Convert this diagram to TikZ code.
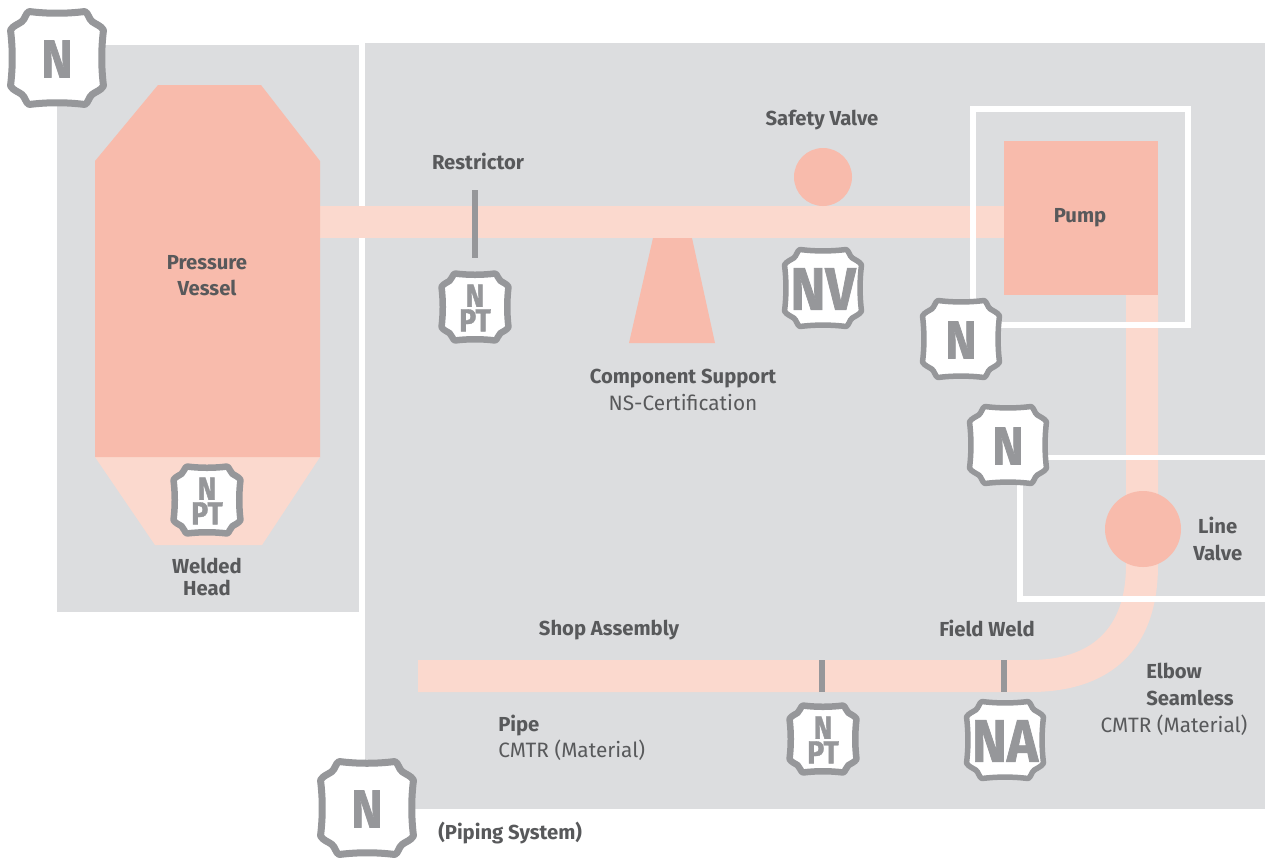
\documentclass[tikz,border=0pt]{standalone}
\usepackage{fontspec}
\setmainfont{Fira Sans}
\newfontfamily\stampfont[FakeStretch=0.88,BoldFeatures={FakeBold=1.2}]{Fira Sans}
\definecolor{panel}{HTML}{DCDDDF}
\definecolor{salmon}{HTML}{F8BBAC}
\definecolor{pale}{HTML}{FBD9CE}
\definecolor{steel}{HTML}{96979A}
\definecolor{ink}{HTML}{58595B}
\tikzset{
  x=0.75pt,y=-0.75pt,
  lab/.style={text=ink,font=\fontsize{15.2}{19.6}\selectfont\bfseries,align=center,inner sep=0pt},
  sub/.style={text=ink,font=\fontsize{15.6}{19.6}\selectfont,align=center,inner sep=0pt},
  tick/.style={draw=steel,line width=4.5pt},
  frame/.style={draw=white,line width=3.8pt},
}
\newcommand{\stampshape}[4]{%
  \begin{scope}[shift={(#1,#2)},x=#3*0.75pt,y=-#3*0.75pt]
    \draw[steel,fill=white,line width=#4*0.75pt,line join=round]
      (-.6,-1) .. controls (-.2,-.95) and (.2,-.95) .. (.6,-1)
      .. controls (.68,-.96) and (.68,-.84) .. (.76,-.78)
      .. controls (.84,-.72) and (.94,-.7) .. (1,-.6)
      .. controls (.95,-.2) and (.95,.2) .. (1,.6)
      .. controls (.94,.7) and (.84,.72) .. (.76,.78)
      .. controls (.68,.84) and (.68,.96) .. (.6,1)
      .. controls (.2,.95) and (-.2,.95) .. (-.6,1)
      .. controls (-.68,.96) and (-.68,.84) .. (-.76,.78)
      .. controls (-.84,.72) and (-.94,.7) .. (-1,.6)
      .. controls (-.95,.2) and (-.95,-.2) .. (-1,-.6)
      .. controls (-.94,-.7) and (-.84,-.72) .. (-.76,-.78)
      .. controls (-.68,-.84) and (-.68,-.96) .. (-.6,-1) -- cycle;
  \end{scope}%
}
% \stamp{name}{x}{y}{half size px}{stroke px}{font pt}{text}
\newcommand{\stamp}[7]{%
  \stampshape{#2}{#3}{#4}{#5}%
  \node[text=steel,inner sep=0pt,align=center,font=\stampfont\fontsize{#6}{#6}\selectfont\bfseries] (#1) at (#2,#3+1) {#7};%
}
\begin{document}
\begin{tikzpicture}
\useasboundingbox (0,0) rectangle (1266,861);
\fill[white] (0,0) rectangle (1266,861);
% panels
\fill[panel] (57,45) rectangle (359,612);
\fill[panel] (365,43) rectangle (1265,809);
% pipes
\fill[pale] (320,206) rectangle (1004,238);
\fill[pale] (1126,295) -- (1158,295) -- (1158,565)
  .. controls (1158,650) and (1110,692) .. (1030,692)
  -- (418,692) -- (418,660) -- (1030,660)
  .. controls (1090,660) and (1126,630) .. (1126,565) -- cycle;
% vessel
\fill[pale] (95,457) -- (320,457) -- (262,545) -- (155,545) -- cycle;
\fill[salmon] (158,85) -- (261,85) -- (320,161) -- (320,457) -- (95,457) -- (95,161) -- cycle;
% support, valves, pump
\fill[salmon] (653,238) -- (692,238) -- (715,343) -- (629,343) -- cycle;
\fill[salmon] (823,177) circle[radius=29];
% white frames
\draw[frame] (973,109) rectangle (1188,325);
\draw[frame] (1266,457.5) -- (1020,457.5) -- (1020,599) -- (1266,599);
\fill[salmon] (1004,141) rectangle (1158,295);
\fill[salmon] (1143,529) circle[radius=38];
% ticks
\draw[tick] (475,190) -- (475,258);
\draw[tick] (822,660) -- (822,692);
\draw[tick] (1004,660) -- (1004,692);
% stamps
\stamp{s1}{57}{58}{46.5}{7}{40}{N}
\stamp{s2}{475}{307}{33.5}{6.5}{24}{N\\[-5.5pt]PT}
\stamp{s3}{207}{500}{33.5}{6.5}{24}{N\\[-5.5pt]PT}
\stamp{s4}{823}{288}{38.5}{5.5}{45}{NV}
\stamp{s5}{961}{339}{38.5}{5.5}{40}{N}
\stamp{s6}{1008}{445}{38.5}{5.5}{40}{N}
\stamp{s7}{823}{739}{33.5}{6.5}{24}{N\\[-5.5pt]PT}
\stamp{s8}{1005}{740}{38.5}{5.5}{45}{NA}
\stamp{s9}{367}{808}{46.5}{7}{40}{N}
% labels
\node[lab] (t1) at (207,276) {Pressure\\Vessel};
\node[lab] (t2) at (207,577) {Welded\\[-3pt]Head};
\node[lab] (t3) at (478,161) {Restrictor};
\node[lab] (t4) at (822,120) {Safety Valve};
\node[lab] (t5) at (1080,218) {Pump};
\node[lab] (t6) at (683,379) {Component Support};
\node[sub] (t7) at (683,403) {NS-Certification};
\node[lab,anchor=west] (t8) at (1193,539) {Line\\Valve};
\node[lab] (t9) at (609,630) {Shop Assembly};
\node[lab] (t10) at (987,628) {Field Weld};
\node[lab,anchor=west] (t11) at (1146,671) {Elbow};
\node[lab,anchor=west] (t12) at (1146,698) {Seamless};
\node[sub] (t13) at (1174,725) {CMTR (Material)};
\node[lab,anchor=west] (t14) at (498,726) {Pipe};
\node[sub,anchor=west] (t15) at (498,750) {CMTR (Material)};
\node[lab,anchor=west] (t16) at (438,833) {(Piping System)};
\end{tikzpicture}
\end{document}
